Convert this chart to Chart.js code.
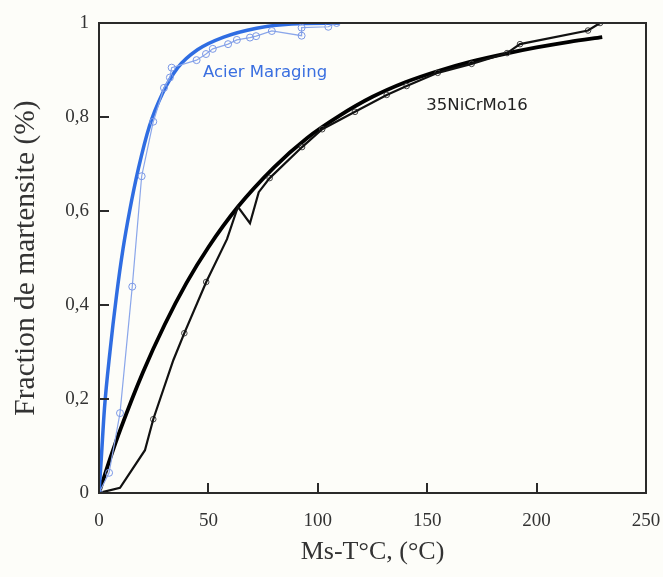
<!DOCTYPE html>
<html>
<head>
<meta charset="utf-8">
<script src="https://cdn.jsdelivr.net/npm/chart.js@4/dist/chart.umd.min.js"></script>
<style>
  html, body { margin: 0; padding: 0; background: #fdfdf9; }
  #wrap { width: 663px; height: 577px; }
</style>
</head>
<body>
<div id="wrap"><canvas id="martChart" width="663" height="577"></canvas></div>
<script>
// Acier Maraging - courbe lissée
const maragingFitX = [0, 1, 2.5, 5, 8, 11, 14, 18, 23, 29, 36, 45, 57, 72, 88, 110];
const maragingFitY = [0, 0.07, 0.18, 0.3, 0.42, 0.52, 0.6, 0.69, 0.78, 0.85, 0.905, 0.943, 0.97, 0.989, 0.998, 1.0];

// Acier Maraging - mesures
const maragingX = [0, 4.6, 9.6, 15.2, 19.5, 24.8, 29.7, 32.4, 33.2, 44.6, 48.9, 52, 59, 63, 69, 71.8, 79, 92.6, 92.6, 104.8, 108.6];
const maragingY = [0, 0.043, 0.17, 0.439, 0.674, 0.79, 0.862, 0.884, 0.905, 0.921, 0.934, 0.945, 0.955, 0.964, 0.969, 0.972, 0.983, 0.973, 0.99, 0.992, 1.0];

// 35NiCrMo16 - courbe lissée
const niFitX = [0, 5, 10, 20, 30, 40, 50, 63.5, 80, 95, 110, 125, 140, 155, 170, 185, 200, 215, 230];
const niFitY = [0, 0.072, 0.138, 0.256, 0.358, 0.447, 0.523, 0.609, 0.693, 0.755, 0.803, 0.843, 0.874, 0.898, 0.918, 0.934, 0.948, 0.96, 0.97];

// 35NiCrMo16 - tracé des mesures
const niPathX = [0, 9.6, 21, 24.8, 34, 39, 49, 58.5, 63.5, 69, 73, 78, 92.8, 102, 117, 131.5, 140.6, 154.8, 170.3, 186.5, 192.4, 223.5, 229];
const niPathY = [0, 0.011, 0.091, 0.157, 0.283, 0.34, 0.449, 0.54, 0.609, 0.574, 0.64, 0.67, 0.736, 0.774, 0.811, 0.847, 0.866, 0.894, 0.913, 0.936, 0.955, 0.984, 1.0];

// 35NiCrMo16 - points mesurés (cercles)
const niMarkX = [24.8, 39, 49, 78, 92.8, 102, 117, 131.5, 140.6, 154.8, 170.3, 186.5, 192.4, 223.5, 229];
const niMarkY = [0.157, 0.34, 0.449, 0.67, 0.736, 0.774, 0.811, 0.847, 0.866, 0.894, 0.913, 0.936, 0.955, 0.984, 1.0];

const xTicks = [0, 50, 100, 150, 200, 250];
const yTicks = [0, 0.2, 0.4, 0.6, 0.8, 1];

const seriesLabels = ['Acier Maraging', '35NiCrMo16'];
const labelAnchorX = [75.9, 172.8];
const labelAnchorY = [0.894, 0.823];

const toPoints = (xs, ys) => xs.map((x, i) => ({ x: x, y: ys[i] }));

const frameAndTicks = {
    id: 'frameAndTicks',
    afterDatasetsDraw(chart) {
        const { ctx, chartArea: a, scales } = chart;
        ctx.save();
        ctx.strokeStyle = '#2a2a2a';
        ctx.lineWidth = 2;
        ctx.strokeRect(a.left, a.top, a.right - a.left, a.bottom - a.top);
        xTicks.forEach(v => {
            const px = Math.round(scales.x.getPixelForValue(v));
            ctx.beginPath();
            ctx.moveTo(px, a.bottom);
            ctx.lineTo(px, a.bottom - 10);
            ctx.stroke();
        });
        yTicks.forEach(v => {
            const py = Math.round(scales.y.getPixelForValue(v));
            ctx.beginPath();
            ctx.moveTo(a.left, py);
            ctx.lineTo(a.left + 10, py);
            ctx.stroke();
        });

        // étiquettes des courbes
        ctx.textAlign = 'center';
        ctx.textBaseline = 'middle';
        ctx.font = '16.5px "DejaVu Sans"';
        ctx.fillStyle = '#3a6fe0';
        ctx.fillText(seriesLabels[0], scales.x.getPixelForValue(labelAnchorX[0]), scales.y.getPixelForValue(labelAnchorY[0]));
        ctx.fillStyle = '#222';
        ctx.fillText(seriesLabels[1], scales.x.getPixelForValue(labelAnchorX[1]), scales.y.getPixelForValue(labelAnchorY[1]));
        ctx.restore();
    }
};

const ctx = document.getElementById('martChart').getContext('2d');

new Chart(ctx, {
    type: 'line',
    data: {
        datasets: [
            {
                label: 'Maraging mesures',
                data: toPoints(maragingX, maragingY),
                borderColor: '#8aa6ea',
                borderWidth: 1.2,
                pointRadius: 3.5,
                pointBorderColor: '#7b98e6',
                pointBorderWidth: 1,
                pointBackgroundColor: 'rgba(0,0,0,0)',
                tension: 0
            },
            {
                label: 'Maraging lissée',
                data: toPoints(maragingFitX, maragingFitY),
                borderColor: '#2f6de2',
                borderWidth: 3.5,
                pointRadius: 0,
                cubicInterpolationMode: 'monotone'
            },
            {
                label: '35NiCrMo16 tracé',
                data: toPoints(niPathX, niPathY),
                borderColor: '#111',
                borderWidth: 2.2,
                pointRadius: 0,
                tension: 0
            },
            {
                label: '35NiCrMo16 points',
                data: toPoints(niMarkX, niMarkY),
                showLine: false,
                pointRadius: 2.8,
                pointBorderColor: '#444',
                pointBorderWidth: 1,
                pointBackgroundColor: 'rgba(0,0,0,0)'
            },
            {
                label: '35NiCrMo16 lissée',
                data: toPoints(niFitX, niFitY),
                borderColor: '#000',
                borderWidth: 3.8,
                pointRadius: 0,
                cubicInterpolationMode: 'monotone'
            }
        ]
    },
    options: {
        responsive: false,
        animation: false,
        layout: { padding: { top: 23, right: 17, left: 0, bottom: 0 } },
        plugins: {
            legend: { display: false },
            tooltip: { enabled: false }
        },
        scales: {
            x: {
                type: 'linear',
                min: 0,
                max: 250,
                afterFit: (scale) => {
                    scale.height = 84;
                    scale.paddingLeft = 0;
                    scale.paddingRight = 0;
                },
                afterBuildTicks: (scale) => { scale.ticks = xTicks.map(v => ({ value: v })); },
                grid: { display: false, drawTicks: false },
                border: { display: false },
                ticks: {
                    padding: 17,
                    color: '#333',
                    font: { family: '"Liberation Serif"', size: 19 }
                },
                title: {
                    display: true,
                    text: 'Ms-T°C, (°C)',
                    color: '#333',
                    padding: { top: 0, bottom: 9 },
                    font: { family: '"Liberation Serif"', size: 26 }
                }
            },
            y: {
                type: 'linear',
                min: 0,
                max: 1,
                afterFit: (scale) => {
                    scale.width = 99;
                    scale.paddingTop = 0;
                    scale.paddingBottom = 0;
                },
                afterBuildTicks: (scale) => { scale.ticks = yTicks.map(v => ({ value: v })); },
                grid: { display: false, drawTicks: false },
                border: { display: false },
                ticks: {
                    padding: 10,
                    color: '#333',
                    font: { family: '"Liberation Serif"', size: 19 },
                    callback: (v) => String(v).replace('.', ',')
                },
                title: {
                    display: true,
                    text: 'Fraction de martensite (%)',
                    color: '#333',
                    padding: { top: 9, bottom: 0 },
                    font: { family: '"Liberation Serif"', size: 29.5 }
                }
            }
        }
    },
    plugins: [frameAndTicks]
});
</script>
</body>
</html>
